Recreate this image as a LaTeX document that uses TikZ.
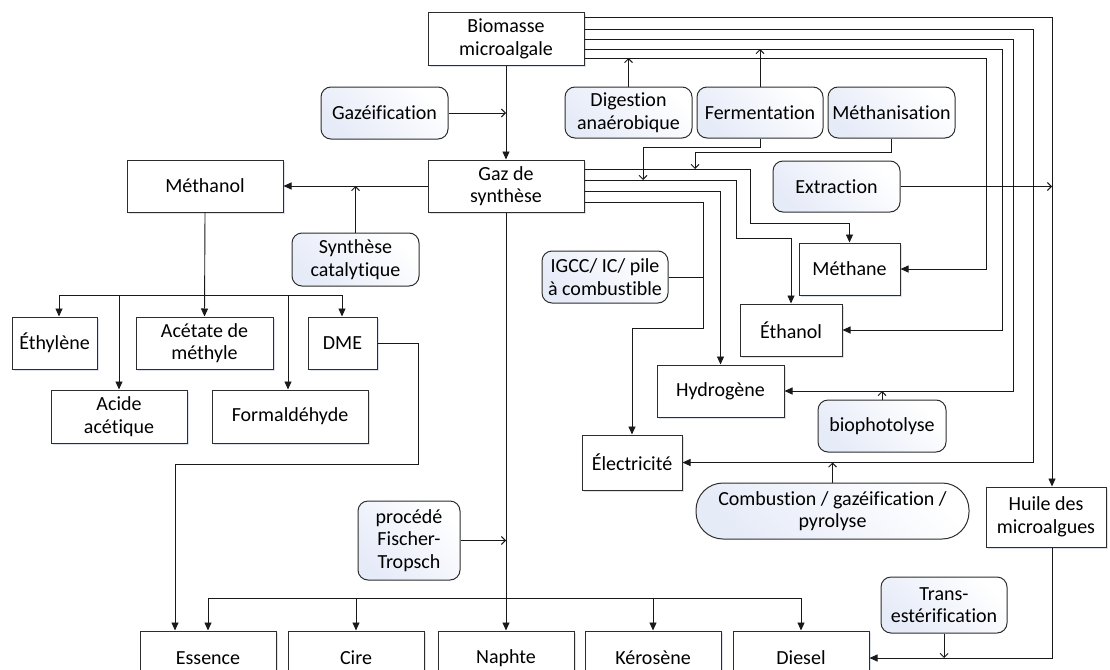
\documentclass[tikz,border=0pt]{standalone}
\usepackage{fontspec}
\setmainfont{Carlito}[Ligatures=NoCommon]
\usetikzlibrary{arrows.meta,shadows}
\definecolor{linec}{RGB}{25,25,25}
\definecolor{boxline}{RGB}{45,45,45}
\definecolor{procblue}{RGB}{230,235,248}
\definecolor{shadowc}{RGB}{220,226,238}
\begin{document}
\begin{tikzpicture}[x=1pt,y=-1pt,
  every node/.style={font=\fontsize{20}{22.5}\selectfont, text=black, align=center, inner sep=0pt},
  outbox/.style n args={2}{draw=boxline, line width=1pt, fill=white,
    minimum width=#1, minimum height=#2,
    drop shadow={shadow xshift=1.5pt, shadow yshift=-1.5pt, fill=shadowc, opacity=1}},
  procbox/.style n args={2}{draw=boxline, line width=1pt, rounded corners=10pt,
    top color=procblue, bottom color=white, shading angle=135,
    minimum width=#1, minimum height=#2},
  link/.style={draw=linec, line width=0.9pt},
  arr/.style={link, -{Triangle[length=8pt,width=7pt]}},
  inarr/.style={link, -{Straight Barb[length=4pt,width=8pt]}},
]
\useasboundingbox (0,0) rectangle (1110,669);
\clip (0,0) rectangle (1110,669);

% ---------- products and sources ----------
\node[outbox={156}{52}] (bio) at (506,39) {Biomasse\\microalgale};
\node[outbox={156}{52}] (gaz) at (506,186) {Gaz de\\synthèse};
\node[outbox={156}{52}] (methanol) at (205,186) {Méthanol};
\node[outbox={85}{52}] (ethyl) at (54.5,343) {Éthylène};
\node[outbox={137}{52}] (acetate) at (204.5,343) {Acétate de\\méthyle};
\node[outbox={69}{52}] (dme) at (342.5,343) {DME};
\node[outbox={136}{53}] (acide) at (119,416.5) {Acide\\acétique};
\node[outbox={156}{53}] (formal) at (290,416.5) {Formaldéhyde};
\node[outbox={101}{52}] (methane) at (849.5,269) {Méthane};
\node[outbox={102}{52}] (ethanol) at (791,330) {Éthanol};
\node[outbox={127}{52}] (hydro) at (720.5,391) {Hydrogène};
\node[outbox={100}{55}] (elec) at (632,462.5) {Électricité};
\node[outbox={120}{60}] (huile) at (1046,517) {Huile des\\microalgues};
\node[outbox={136}{54}] (essence) at (208,658) {Essence};
\node[outbox={136}{54}] (cire) at (356,658) {Cire};
\node[outbox={136}{54}] (naphte) at (506,658) {Naphte};
\node[outbox={136}{54}] (kero) at (653,658) {Kérosène};
\node[outbox={136}{54}] (diesel) at (801,658) {Diesel};

% ---------- processes ----------
\node[procbox={127}{52}] (gazeif) at (384.5,113) {Gazéification};
\node[procbox={127}{51}] (dig) at (628.5,112.5) {Digestion\\anaérobique};
\node[procbox={126}{51}] (ferm) at (760,112.5) {Fermentation};
\node[procbox={127}{51}] (methan) at (891.5,112.5) {Méthanisation};
\node[procbox={127}{51}] (extr) at (836.5,186.5) {Extraction};
\node[procbox={127}{53}] (synth) at (355.5,259.5) {Synthèse\\catalytique};
\node[procbox={126}{52}] (igcc) at (605,277) {IGCC/ IC/ pile\\à combustible};
\node[procbox={128}{52}] (bioph) at (882,426) {biophotolyse};
\node[procbox={273}{56}, rounded corners=27pt] (comb) at (832.5,511) {Combustion / gazéification /\\pyrolyse};
\node[procbox={102}{79}] (ft) at (409,540.5) {procédé\\Fischer-\\Tropsch};
\node[procbox={126}{56}] (trans) at (944,605) {Trans-\\estérification};

% ---------- biomass main chain ----------
\draw[arr] (bio.south) -- (gaz.north);
\draw[inarr] (gazeif.east) -- (gazeif.east -| bio.south);

% ---------- direct routes from the biomass ----------
\draw[arr] (bio.east |- 0,17) -| (1052,0 |- huile.north);
\draw[arr] (bio.east |- 0,29) -| (1033,0 |- elec.east) -- (elec.east);
\draw[arr] (bio.east |- 0,39) -| (1013,0 |- hydro.east) -- (hydro.east);
\draw[arr] (bio.east |- 0,49) -| (1002,0 |- ethanol.east) -- (ethanol.east);
\draw[arr] (bio.east |- 0,58) -| (986,0 |- methane.east) -- (methane.east);

\draw[inarr] (dig.north) -- (dig.north |- 0,58);
\draw[inarr] (ferm.north) -- (ferm.north |- 0,49);
\draw[inarr] (ferm.south) -- (ferm.south |- 0,147) -| (643,180);
\draw[inarr] (methan.south) -- (methan.south |- 0,152) -| (695,169);
\draw[inarr] (extr.east) -- (extr.east -| 1052,0);

% ---------- routes from the syngas ----------
\draw[arr] (gaz.east |- 0,169) -- (750,169) -- (750,223) -| (methane.north);
\draw[arr] (gaz.east |- 0,180) -- (736,180) -- (736,238) -| (ethanol.north);
\draw[arr] (gaz.east |- 0,191) -| (hydro.north);
\draw[arr] (gaz.east |- 0,202) -- (703,202) -- (703,328) -| (elec.north);
\draw[link] (igcc.east) -- (igcc.east -| 703,0);

\draw[arr] (gaz.west) -- (methanol.east);
\draw[inarr] (synth.north) -- (synth.north |- methanol.east);

% ---------- methanol derivatives ----------
\draw[arr] (methanol.south) -- (acetate.north);
\draw[link] (59,295) -- (342,295);
\draw[arr] (59,295) -- (59,0 |- ethyl.north);
\draw[arr] (119,295) -- (acide.north);
\draw[arr] (288,295) -- (288,0 |- formal.north);
\draw[arr] (342,295) -- (342,0 |- dme.north);
\draw[arr] (dme.east) -- (418,0 |- dme.east) -- (418,464) -| (175,0 |- essence.north);

% ---------- Fischer-Tropsch fuels ----------
\draw[arr] (gaz.south) -- (naphte.north);
\draw[inarr] (ft.east) -- (ft.east -| gaz.south);
\draw[link] (208,598) -- (801,598);
\draw[arr] (208,598) -- (essence.north);
\draw[arr] (356,598) -- (cire.north);
\draw[arr] (653,598) -- (kero.north);
\draw[arr] (801,598) -- (diesel.north);

% ---------- oil, hydrogen and electricity ----------
\draw[arr] (1052,0 |- huile.south) -- (1052,0 |- diesel.east) -- (diesel.east);
\draw[inarr] (trans.south) -- (trans.south |- diesel.east);
\draw[inarr] (comb.north) -- (comb.north |- elec.east);
\draw[inarr] (bioph.north) -- (bioph.north |- hydro.east);
\end{tikzpicture}
\end{document}
